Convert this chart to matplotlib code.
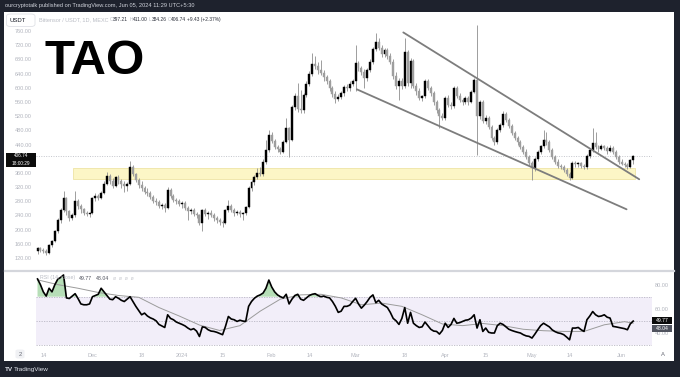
import numpy as np
import pandas as pd
import matplotlib
matplotlib.use("Agg")
import matplotlib.pyplot as plt
import matplotlib.dates as mdates
from matplotlib.patches import Rectangle, FancyBboxPatch
from matplotlib.lines import Line2D

plt.rcParams['font.family'] = ['Liberation Sans', 'DejaVu Sans']

# Daily candles, Bittensor / USDT (MEXC), 2023-11-12 .. 2024-06-05
first_day = '2023-11-12'

opens = [
    140, 147, 143, 140, 135, 156, 168, 196, 226, 255, 288, 252, 232, 240, 282, 266, 258, 246, 244,
    246, 288, 296, 290, 304, 330, 352, 338, 324, 348, 336, 330, 322, 328, 378, 356, 340, 326, 318, 306,
    302, 292, 282, 278, 268, 270, 260, 312, 296, 284, 280,
    272, 276, 262, 252, 256, 244, 240, 220, 254, 244, 248, 240, 232, 228, 222, 218, 254, 266, 256, 248,
    250, 244, 246, 264, 316, 334, 348, 360, 356, 392, 424,
    468, 450, 432, 428, 420, 448, 486, 454, 546, 576, 540, 536, 580, 612, 640, 668, 660, 650, 642, 630,
    618, 600, 582, 568, 574, 584, 603, 598, 612,
    620, 670, 656, 644, 628, 650, 674, 710, 730, 712, 694, 706, 690, 674, 632, 606, 620, 604, 700, 614,
    676, 606, 590, 572, 576, 620, 600, 586, 560, 538, 520,
    516, 572, 552, 548, 598, 576, 566, 560, 572, 560, 589, 622, 520, 560, 506, 516, 490, 458, 448, 480,
    496, 526, 510, 492, 472, 458, 446, 432, 420, 404,
    388, 374, 400, 420, 436, 454, 446, 424, 404, 392, 380, 376, 368, 356, 346, 388, 384, 388, 380, 376,
    408, 424, 444, 432, 428, 436, 430, 422, 430, 418, 404,
    392, 386, 382, 378, 397.21]

highs = [
    150, 152, 149, 146, 160, 172, 200, 232, 262, 310, 292, 256, 246, 308, 286, 272, 262, 252, 250,
    292, 302, 300, 310, 336, 362, 358, 346, 352, 354, 342, 338, 334, 394, 382, 360, 346, 336, 324, 316,
    308, 298, 290, 284, 276, 274, 320, 316, 300, 290, 286,
    282, 280, 266, 262, 260, 250, 244, 258, 262, 252, 256, 246, 238, 232, 228, 258, 284, 272, 262, 256,
    254, 250, 268, 322, 340, 354, 374, 376, 398, 454, 482,
    474, 456, 440, 434, 452, 516, 490, 552, 584, 614, 594, 584, 618, 646, 698, 690, 672, 678, 650, 636,
    624, 606, 590, 582, 590, 608, 610, 618, 626,
    720, 676, 662, 652, 656, 680, 716, 753, 740, 720, 712, 712, 698, 680, 644, 628, 628, 739, 706, 684,
    680, 614, 598, 580, 626, 626, 606, 592, 566, 544, 528,
    578, 580, 560, 604, 604, 584, 572, 578, 578, 594, 628, 777, 566, 566, 524, 520, 496, 464, 486, 502,
    534, 532, 516, 498, 478, 464, 452, 440, 426, 410,
    394, 404, 424, 440, 482, 476, 452, 430, 410, 398, 386, 382, 374, 362, 394, 394, 392, 392, 386, 412,
    430, 486, 476, 440, 442, 440, 436, 440, 436, 424, 410,
    398, 392, 388, 400, 411.00]

lows = [
    132, 138, 134, 128, 131, 150, 164, 190, 220, 250, 240, 224, 228, 236, 258, 246, 240, 238, 236,
    244, 282, 284, 286, 300, 326, 330, 318, 320, 330, 318, 306, 310, 326, 350, 334, 318, 308, 300, 296,
    286, 276, 270, 262, 258, 250, 258, 290, 278, 272, 266,
    262, 256, 226, 244, 238, 232, 214, 196, 238, 230, 236, 224, 220, 212, 208, 216, 250, 250, 238, 240,
    236, 228, 240, 260, 310, 326, 342, 350, 352, 386, 418,
    444, 428, 420, 414, 416, 444, 406, 450, 538, 532, 528, 530, 574, 606, 634, 652, 640, 636, 620, 610,
    592, 574, 558, 562, 568, 578, 590, 592, 604,
    590, 648, 636, 598, 620, 644, 668, 704, 706, 688, 686, 682, 666, 626, 596, 566, 596, 598, 604, 600,
    598, 580, 566, 564, 570, 594, 578, 552, 530, 486, 508,
    510, 546, 540, 542, 570, 560, 552, 554, 552, 556, 584, 410, 512, 500, 498, 484, 452, 440, 442, 474,
    490, 504, 486, 466, 452, 440, 426, 414, 398, 382,
    340, 366, 394, 414, 430, 440, 418, 398, 386, 374, 370, 362, 350, 340, 342, 378, 376, 374, 370, 372,
    402, 418, 426, 420, 424, 424, 414, 418, 412, 398, 386,
    382, 376, 372, 374, 384.26]

closes = [
    147, 143, 140, 135, 156, 168, 196, 226, 255, 288, 252, 232, 240, 282, 266, 258, 246, 244, 246,
    288, 296, 290, 304, 330, 352, 338, 324, 348, 336, 330, 322, 328, 378, 356, 340, 326, 318, 306, 302,
    292, 282, 278, 268, 270, 260, 312, 296, 284, 280, 272,
    276, 262, 252, 256, 244, 240, 220, 254, 244, 248, 240, 232, 228, 222, 218, 254, 266, 256, 248, 250,
    244, 246, 264, 316, 334, 348, 360, 356, 392, 424, 468,
    450, 432, 428, 420, 448, 486, 454, 546, 576, 540, 536, 580, 612, 640, 668, 660, 650, 642, 630, 618,
    600, 582, 568, 574, 584, 603, 598, 612, 620,
    670, 656, 644, 628, 650, 674, 710, 730, 712, 694, 706, 690, 674, 632, 606, 620, 604, 700, 614, 676,
    606, 590, 572, 576, 620, 600, 586, 560, 538, 520, 516,
    572, 552, 548, 598, 576, 566, 560, 572, 560, 589, 622, 520, 560, 506, 516, 490, 458, 448, 480, 496,
    526, 510, 492, 472, 458, 446, 432, 420, 404, 388,
    374, 400, 420, 436, 454, 446, 424, 404, 392, 380, 376, 368, 356, 346, 388, 384, 388, 380, 376, 408,
    424, 444, 432, 428, 436, 430, 422, 430, 418, 404, 392,
    386, 382, 378, 397.21, 406.74]

# RSI(14, close), one value per candle
rsi = [
    84.7, 80, 74, 70.5, 77, 74, 80, 84.5, 86, 88, 69, 68.5, 70.5, 72.5, 68.5, 64, 63.3, 63.3, 64,
    70, 71, 72, 77, 74, 71, 68, 67.5, 70, 68.7, 67, 66, 68, 70, 66, 62, 58.5, 55, 56.4, 54,
    52.5, 51.5, 50, 47, 45.8, 44.5, 55, 52, 50.9, 49, 48,
    47, 45.8, 44, 42.6, 43.5, 41.5, 37, 45, 44.5, 42.6, 41.5, 41.2, 40.5, 39.5, 38.5, 45.4, 53.6, 51.5,
    50.9, 49.5, 50.5, 49.8, 49.5, 62, 66, 68.7, 70.5, 71.5, 73, 77, 83.8,
    78, 74, 71.5, 70, 69, 72, 64, 68, 71, 72, 68, 67, 69, 71, 72, 72.5, 71, 70, 70.5, 69.5,
    69, 66, 62, 57, 58, 62, 62, 63, 66,
    68.7, 64, 60.5, 63, 66, 69.5, 71.5, 65, 67, 64, 62.5, 61, 57, 52, 50, 47, 52, 61, 48, 57,
    48, 46, 44.5, 45, 49, 46, 43, 41.5, 41.2, 39, 42,
    48, 44.5, 47, 52, 48, 48.5, 49.5, 50.5, 50.9, 52.3, 55, 44, 50.9, 41.2, 44, 40.5, 39.9, 39.9, 46, 48,
    47, 45, 43, 42, 41.2, 40.5, 39.9, 38.5, 37.5, 37.1,
    35.7, 39, 42.6, 46, 48, 46.5, 45, 42.5, 41, 40, 39.5, 38.5, 36.5, 34.3, 44, 44, 44.5, 42.6, 41.2,
    50.9, 54, 57.7, 55, 53.6, 54, 55, 53, 52.3, 45.4, 45, 44.5,
    44, 43.5, 42.6, 47.5, 49.77]

# RSI-based moving average, read weekly
ma_dates = ['2023-11-12', '2023-11-19', '2023-11-26', '2023-12-03', '2023-12-10', '2023-12-17',
            '2023-12-24', '2023-12-31', '2024-01-07', '2024-01-14', '2024-01-21', '2024-01-28',
            '2024-02-04', '2024-02-11', '2024-02-18', '2024-02-25', '2024-03-03', '2024-03-10',
            '2024-03-17', '2024-03-24', '2024-03-31', '2024-04-07', '2024-04-14', '2024-04-21',
            '2024-04-28', '2024-05-05', '2024-05-12', '2024-05-19', '2024-05-26', '2024-06-02',
            '2024-06-05']
rsi_ma = [84, 80, 77, 73.5, 71, 69.5, 61, 54, 46.5, 42, 46, 58, 68, 71.5, 72, 69, 63.3, 64.7,
          62, 55, 47.4, 46, 47.8, 46, 43, 41.8, 41.2, 41.2, 46.7, 49.3, 48.04]

# drawings
zone_dates = ['2023-11-24 10:00', '2024-06-05 14:00']
zone_prices = [342.7, 372.8]
upper_line_dates = ['2024-03-17 12:00', '2024-06-07 02:00']
upper_line_prices = [756, 342]
lower_line_dates = ['2024-03-01 10:00', '2024-06-02 17:00']
lower_line_prices = [595.6, 257.3]

# the 400.00 label sits under the last-price tag, so it is not shown
price_ticks = [120, 160, 200, 240, 280, 320, 360, 440, 480, 520, 560, 600, 640, 680, 720, 760]
rsi_ticks = [40, 60, 80]
time_tick_dates = ['2023-11-14', '2023-12-01', '2023-12-18', '2024-01-01', '2024-01-15',
                   '2024-02-01', '2024-02-14', '2024-03-01', '2024-03-18', '2024-04-01',
                   '2024-04-15', '2024-05-01', '2024-05-14', '2024-06-01']
time_tick_labels = ['14', 'Dec', '18', '2024', '15', 'Feb', '14', 'Mar', '18', 'Apr',
                    '15', 'May', '14', 'Jun']

W, H = 680, 377


def fx(px):
    return px / W


def fy(py):
    return 1 - py / H


fig = plt.figure(figsize=(W / 100, H / 100), dpi=100, facecolor='#1e222d')
fig.patches.append(Rectangle((fx(4), fy(361)), 670 / W, 349 / H, transform=fig.transFigure,
                             facecolor='white', edgecolor='none', zorder=-5))

o = np.array(opens, float)
hi = np.array(highs, float)
lo = np.array(lows, float)
c = np.array(closes, float)
x = mdates.date2num(pd.date_range(first_day, periods=len(c), freq='D'))
x0 = mdates.date2num(pd.Timestamp('2023-11-14'))
xlim = (x0 - 2.63, x0 + 210.4)

# ---------------- price pane ----------------
ax = fig.add_axes([fx(35.7), fy(270), 616 / W, 258 / H])
ax.set_facecolor('none')
ax.set_xlim(*xlim)
ax.set_ylim(86.2, 813.6)
for s in ax.spines.values():
    s.set_visible(False)

zs = mdates.date2num(pd.to_datetime(zone_dates))
ax.add_patch(Rectangle((zs[0], zone_prices[0]), zs[1] - zs[0], zone_prices[1] - zone_prices[0],
                       facecolor='#fcf6c6', edgecolor='#eee4a4', lw=0.6, zorder=1))

ax.axhline(closes[-1], color='#c3c5cb', lw=0.7, ls=(0, (1, 1.5)), zorder=1)

up = c >= o
body_col = np.where(up, '#000000', '#9e9e9e')
ax.vlines(x, lo, hi, colors='#8e8e8e', lw=0.6, zorder=2)
ax.bar(x, np.maximum(np.abs(c - o), 1.8), bottom=np.minimum(o, c), width=0.68,
       color=body_col, edgecolor=body_col, lw=0.3, zorder=3)

ax.plot(mdates.date2num(pd.to_datetime(upper_line_dates)), upper_line_prices,
        color='#7d7d7d', lw=1.3, zorder=4, solid_capstyle='round')
ax.plot(mdates.date2num(pd.to_datetime(lower_line_dates)), lower_line_prices,
        color='#7d7d7d', lw=1.3, zorder=4, solid_capstyle='round')

ax.set_xticks([])
ax.set_yticks(price_ticks)
ax.set_yticklabels([f'{v:.2f}' for v in price_ticks])
ax.tick_params(axis='y', length=0, pad=2.6, labelsize=4.0, labelcolor='#b2b5be')


def price_to_fig(v):
    b = ax.get_position()
    y0, y1 = ax.get_ylim()
    return b.y0 + (v - y0) / (y1 - y0) * b.height


yp = price_to_fig(closes[-1])
fig.patches.append(Rectangle((fx(5.5), yp - 10.8 / H), 30.5 / W, 14.6 / H, transform=fig.transFigure,
                             facecolor='#0b0b0b', edgecolor='none', zorder=5))
fig.text(fx(20.7), yp + 0.5 / H, f'{closes[-1]:.2f}', color='white', fontsize=3.4, ha='center',
         va='center', zorder=6)
fig.text(fx(20.7), yp - 7.0 / H, '18:00:29', color='white', fontsize=3.4, ha='center',
         va='center', zorder=6)

# ---------------- RSI pane ----------------
rax = fig.add_axes([fx(35.7), fy(347), 616 / W, 76 / H])
rax.set_facecolor('none')
rax.set_xlim(*xlim)
rax.set_ylim(28.3, 91.3)
for s in rax.spines.values():
    s.set_visible(False)
rax.axhspan(30, 70, color='#f2eef9', lw=0, zorder=0)
for lvl in (70, 50, 30):
    rax.axhline(lvl, color='#b9b7c4', lw=0.6, ls=(0, (1.5, 1.5)), zorder=1)
r = np.array(rsi, float)
rax.fill_between(x, r, 70, where=r >= 70, interpolate=True, color='#b6deb7', lw=0, zorder=1.5)
rax.plot(mdates.date2num(pd.to_datetime(ma_dates)), rsi_ma, color='#9b9b9b', lw=0.7, zorder=2)
rax.plot(x, r, color='#000000', lw=1.2, zorder=3)

rax.yaxis.tick_right()
rax.set_yticks(rsi_ticks)
rax.set_yticklabels([f'{v:.2f}' for v in rsi_ticks])
rax.tick_params(axis='y', length=0, pad=2.2, labelsize=4.0, labelcolor='#b2b5be')
rax.set_xticks(mdates.date2num(pd.to_datetime(time_tick_dates)))
rax.set_xticklabels(time_tick_labels)
rax.tick_params(axis='x', length=0, pad=4.2, labelsize=4.0, labelcolor='#b2b5be')

# value tags on the RSI scale
fig.patches.append(Rectangle((fx(652), fy(324.4)), 20 / W, 7.2 / H, transform=fig.transFigure,
                             facecolor='#0b0b0b', edgecolor='none', zorder=5))
fig.text(fx(662), fy(320.8), f'{rsi[-1]:.2f}', color='white', fontsize=3.7, ha='center',
         va='center', zorder=6)
fig.patches.append(Rectangle((fx(652), fy(331.6)), 20 / W, 6.8 / H, transform=fig.transFigure,
                             facecolor='#50535e', edgecolor='none', zorder=5))
fig.text(fx(662), fy(328.2), f'{rsi_ma[-1]:.2f}', color='white', fontsize=3.7, ha='center',
         va='center', zorder=6)

# pane separator
fig.add_artist(Line2D([fx(5), fx(674)], [fy(270.5), fy(270.5)], color='#d4d6dc', lw=1.6,
                      transform=fig.transFigure))

# ---------------- texts ----------------
fig.text(fx(5), fy(6), 'ourcryptotalk published on TradingView.com, Jun 05, 2024 11:29 UTC+5:30',
         color='#d1d4dc', fontsize=4.1, va='center')

fig.patches.append(FancyBboxPatch((fx(6.5), fy(26.5)), 28.5 / W, 12.5 / H,
                                  boxstyle='round,pad=0,rounding_size=0.006',
                                  transform=fig.transFigure, facecolor='white',
                                  edgecolor='#dfe1e6', lw=0.6, zorder=2))
fig.text(fx(10), fy(20), 'USDT', color='#131722', fontsize=4.3, va='center', zorder=3)
fig.text(fx(39), fy(19.5), 'Bittensor / USDT, 1D, MEXC', color='#b9bcc4', fontsize=4.0,
         va='center')
for lx, letter, val in [(109.5, 'O', '397.21'), (129.5, 'H', '411.00'),
                        (148.5, 'L', '384.26'), (167.5, 'C', '406.74')]:
    fig.text(fx(lx), fy(19.5), letter, color='#b9bcc4', fontsize=3.5, va='center')
    fig.text(fx(lx + 3.3), fy(19.5), val, color='#2a2e39', fontsize=3.5, va='center')
fig.text(fx(187), fy(19.5), '+9.43 (+2.37%)', color='#2a2e39', fontsize=3.5, va='center')

fig.text(fx(44.5), fy(74), 'TAO', color='black', fontsize=35.5, fontweight='bold',
         family='Liberation Sans', va='baseline')

fig.text(fx(40), fy(278), 'RSI (14, close)', color='#b9bcc4', fontsize=3.8, va='center')
fig.text(fx(79), fy(278), f'{rsi[-1]:.2f}', color='#50535e', fontsize=3.8, va='center')
fig.text(fx(96), fy(278), f'{rsi_ma[-1]:.2f}', color='#50535e', fontsize=3.8, va='center')
fig.text(fx(113), fy(278), 'ø  ø  ø  ø', color='#c8cad0', fontsize=3.6, va='center')

fig.patches.append(FancyBboxPatch((fx(15.5), fy(358.5)), 9 / W, 9 / H,
                                  boxstyle='round,pad=0,rounding_size=0.004',
                                  transform=fig.transFigure, facecolor='#f0f1f4',
                                  edgecolor='none', zorder=2))
fig.text(fx(20), fy(354), '2', color='#6a6d78', fontsize=4.2, ha='center', va='center', zorder=3)
fig.text(fx(663), fy(354), 'A', color='#6a6d78', fontsize=4.2, ha='center', va='center')

fig.text(fx(5), fy(369.5), 'TV', color='#e0e3eb', fontsize=4.6, fontweight='bold', va='center')
fig.text(fx(14), fy(369.5), 'TradingView', color='#e0e3eb', fontsize=4.6, va='center')

fig.savefig('out.png', dpi=100, facecolor=fig.get_facecolor())
